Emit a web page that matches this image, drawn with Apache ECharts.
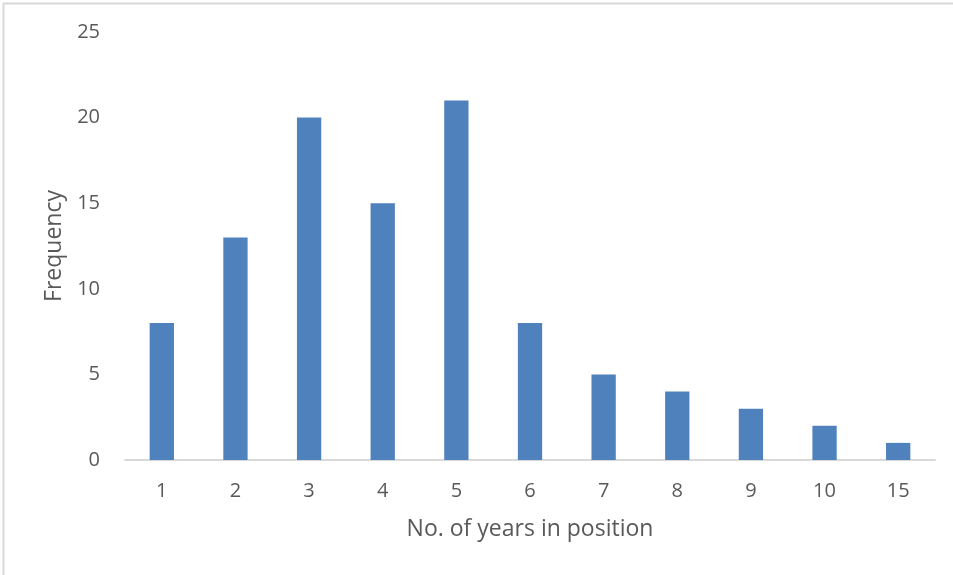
<!DOCTYPE html>
<html>
<head>
<meta charset="utf-8">
<script src="https://cdn.jsdelivr.net/npm/echarts@6/dist/echarts.min.js"></script>
<style>
  html, body { margin: 0; padding: 0; background: #fff; }
  #chart { width: 953px; height: 575px; }
</style>
</head>
<body>
<div id="chart"></div>
<script>
// years in position (category labels) and how many people
const years = ['1', '2', '3', '4', '5', '6', '7', '8', '9', '10', '15']
const frequency = [8, 13, 20, 15, 21, 8, 5, 4, 3, 2, 1]
const yTicks = [0, 5, 10, 15, 20, 25]

const chart = echarts.init(document.getElementById('chart'))
const textColor = '#595959'
const font = 'Open Sans'

chart.setOption({
  animation: false,
  backgroundColor: '#fff',
  graphic: [{
    type: 'rect',
    shape: { x: 3.5, y: 3.5, width: 1000, height: 700 },
    style: { fill: 'none', stroke: '#d9d9d9', lineWidth: 2 },
  }],
  grid: { left: 125, right: 18, top: 32, bottom: 115 },
  xAxis: {
    type: 'category',
    data: years,
    name: 'No. of years in position',
    nameLocation: 'middle',
    nameGap: 58,
    nameTextStyle: { color: textColor, fontSize: 23, fontFamily: font },
    axisLine: { lineStyle: { color: '#d9d9d9', width: 2 } },
    axisTick: { show: false },
    axisLabel: { color: textColor, fontSize: 20, fontFamily: font, margin: 21 },
  },
  yAxis: {
    type: 'value',
    min: yTicks[0],
    max: yTicks[yTicks.length - 1],
    interval: 5,
    name: 'Frequency',
    nameLocation: 'middle',
    nameGap: 58,
    nameTextStyle: { color: textColor, fontSize: 23, fontFamily: font },
    axisLine: { show: false },
    axisTick: { show: false },
    splitLine: { show: false },
    axisLabel: { color: textColor, fontSize: 20, fontFamily: font, margin: 25 },
  },
  series: [{
    type: 'bar',
    data: frequency,
    barWidth: '33%',
    itemStyle: { color: '#4f81bd' },
  }],
})
</script>
</body>
</html>
